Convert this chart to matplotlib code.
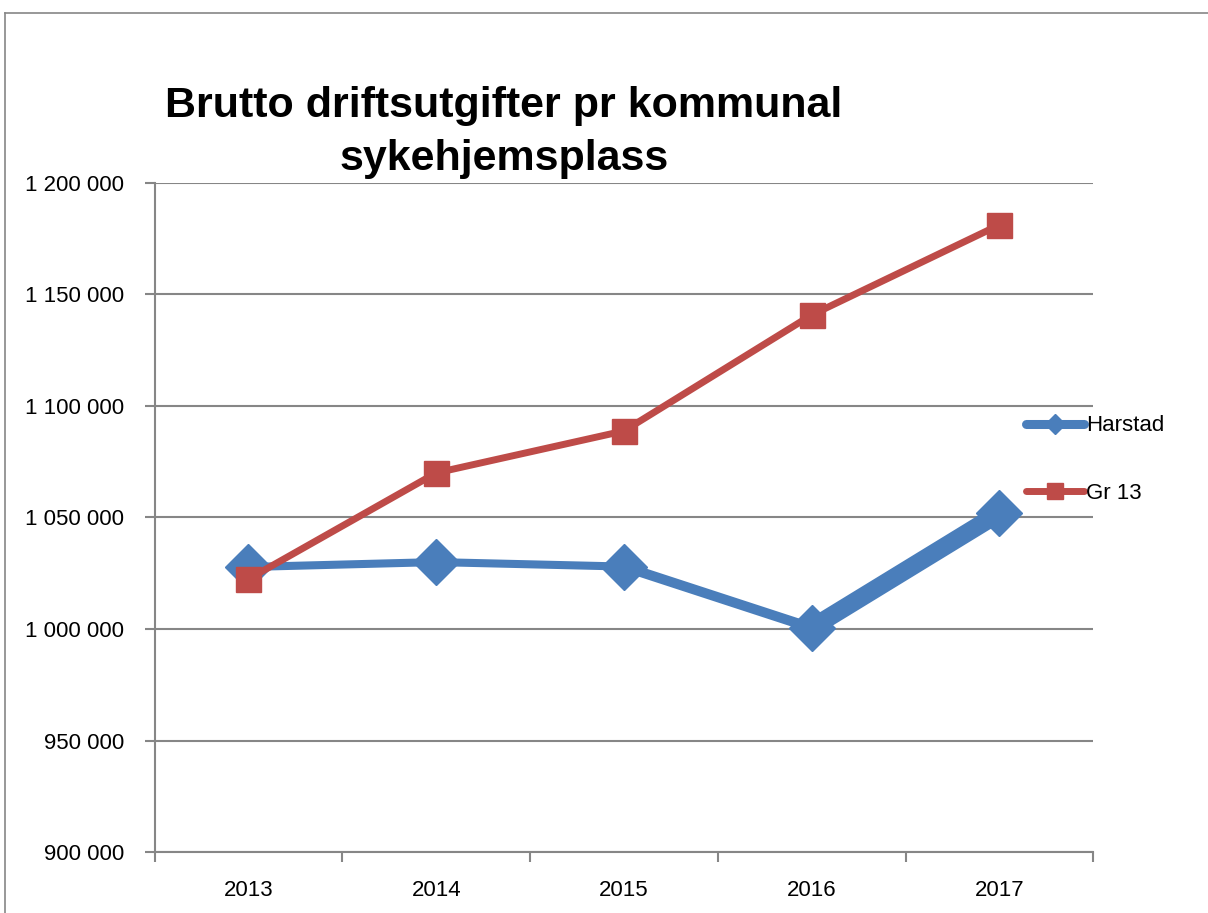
import matplotlib
matplotlib.use("Agg")
import matplotlib.pyplot as plt
from matplotlib.lines import Line2D
from matplotlib.ticker import FuncFormatter, FixedLocator

years = ["2013", "2014", "2015", "2016", "2017"]
harstad = [1027800, 1030000, 1028000, 1000500, 1052000]
gr13 = [1022400, 1070000, 1088800, 1140800, 1181200]

BLUE = "#4A7EBB"
RED = "#BE4B48"
GRID = "#868686"

# Harstad line gets thicker towards the end in the original (Excel rendering)
harstad_seg_width = [5.8, 5.8, 7.2, 13.0]

plt.rcParams["font.family"] = ["Liberation Sans", "DejaVu Sans"]

fig = plt.figure(figsize=(12.08, 9.13), dpi=100)
ax = fig.add_axes((0.128, 0.0668, 0.777, 0.7328))

x = list(range(len(years)))
for i in range(len(x) - 1):
    ax.plot(x[i:i + 2], harstad[i:i + 2], color=BLUE, lw=harstad_seg_width[i],
            solid_capstyle="round", zorder=3)
ax.plot(x, harstad, ls="none", marker="D", ms=23, color=BLUE, zorder=4)
ax.plot(x, gr13, color=RED, lw=5, marker="s", ms=18, zorder=5)

ax.set_xlim(-0.5, len(years) - 0.5)
ax.set_ylim(900000, 1200000)
ax.yaxis.set_major_locator(FixedLocator(range(900000, 1200001, 50000)))
ax.yaxis.set_major_formatter(FuncFormatter(lambda v, p: f"{int(v):,}".replace(",", " ")))
ax.set_xticks(x)
ax.set_xticklabels(years)
ax.xaxis.set_minor_locator(FixedLocator([i - 0.5 for i in range(len(years) + 1)]))

ax.grid(axis="y", color=GRID, lw=1.5)
ax.set_axisbelow(True)
for s in ("top", "right"):
    ax.spines[s].set_visible(False)
for s in ("left", "bottom"):
    ax.spines[s].set_color(GRID)
    ax.spines[s].set_linewidth(1.5)
ax.tick_params(axis="x", which="major", length=0, pad=20, labelsize=16)
ax.tick_params(axis="x", which="minor", length=7, width=1.5, color=GRID)
ax.tick_params(axis="y", length=7, width=1.5, color=GRID, labelsize=16, pad=15)

fig.text(0.417, 0.855, "Brutto driftsutgifter pr kommunal\nsykehjemsplass",
         ha="center", va="center", fontsize=31, fontweight="bold",
         linespacing=1.4)

handles = [
    Line2D([], [], color=BLUE, lw=6.5, marker="D", ms=10, solid_capstyle="round"),
    Line2D([], [], color=RED, lw=5, marker="s", ms=12, solid_capstyle="round"),
]
fig.legend(handles, ["Harstad", "Gr 13"], loc="upper left",
           bbox_to_anchor=(0.833, 0.567), frameon=False, fontsize=16,
           handlelength=2.6, handletextpad=0.1, labelspacing=2.1)

# outer chart border (only left and top visible in the crop)
fig.add_artist(Line2D([4.5 / 1208, 4.5 / 1208], [0, 1 - 13 / 913], color=GRID, lw=1.2,
                      transform=fig.transFigure))
fig.add_artist(Line2D([4.5 / 1208, 1], [1 - 13 / 913, 1 - 13 / 913], color=GRID, lw=1.2,
                      transform=fig.transFigure))

fig.savefig("out.png", dpi=100)
